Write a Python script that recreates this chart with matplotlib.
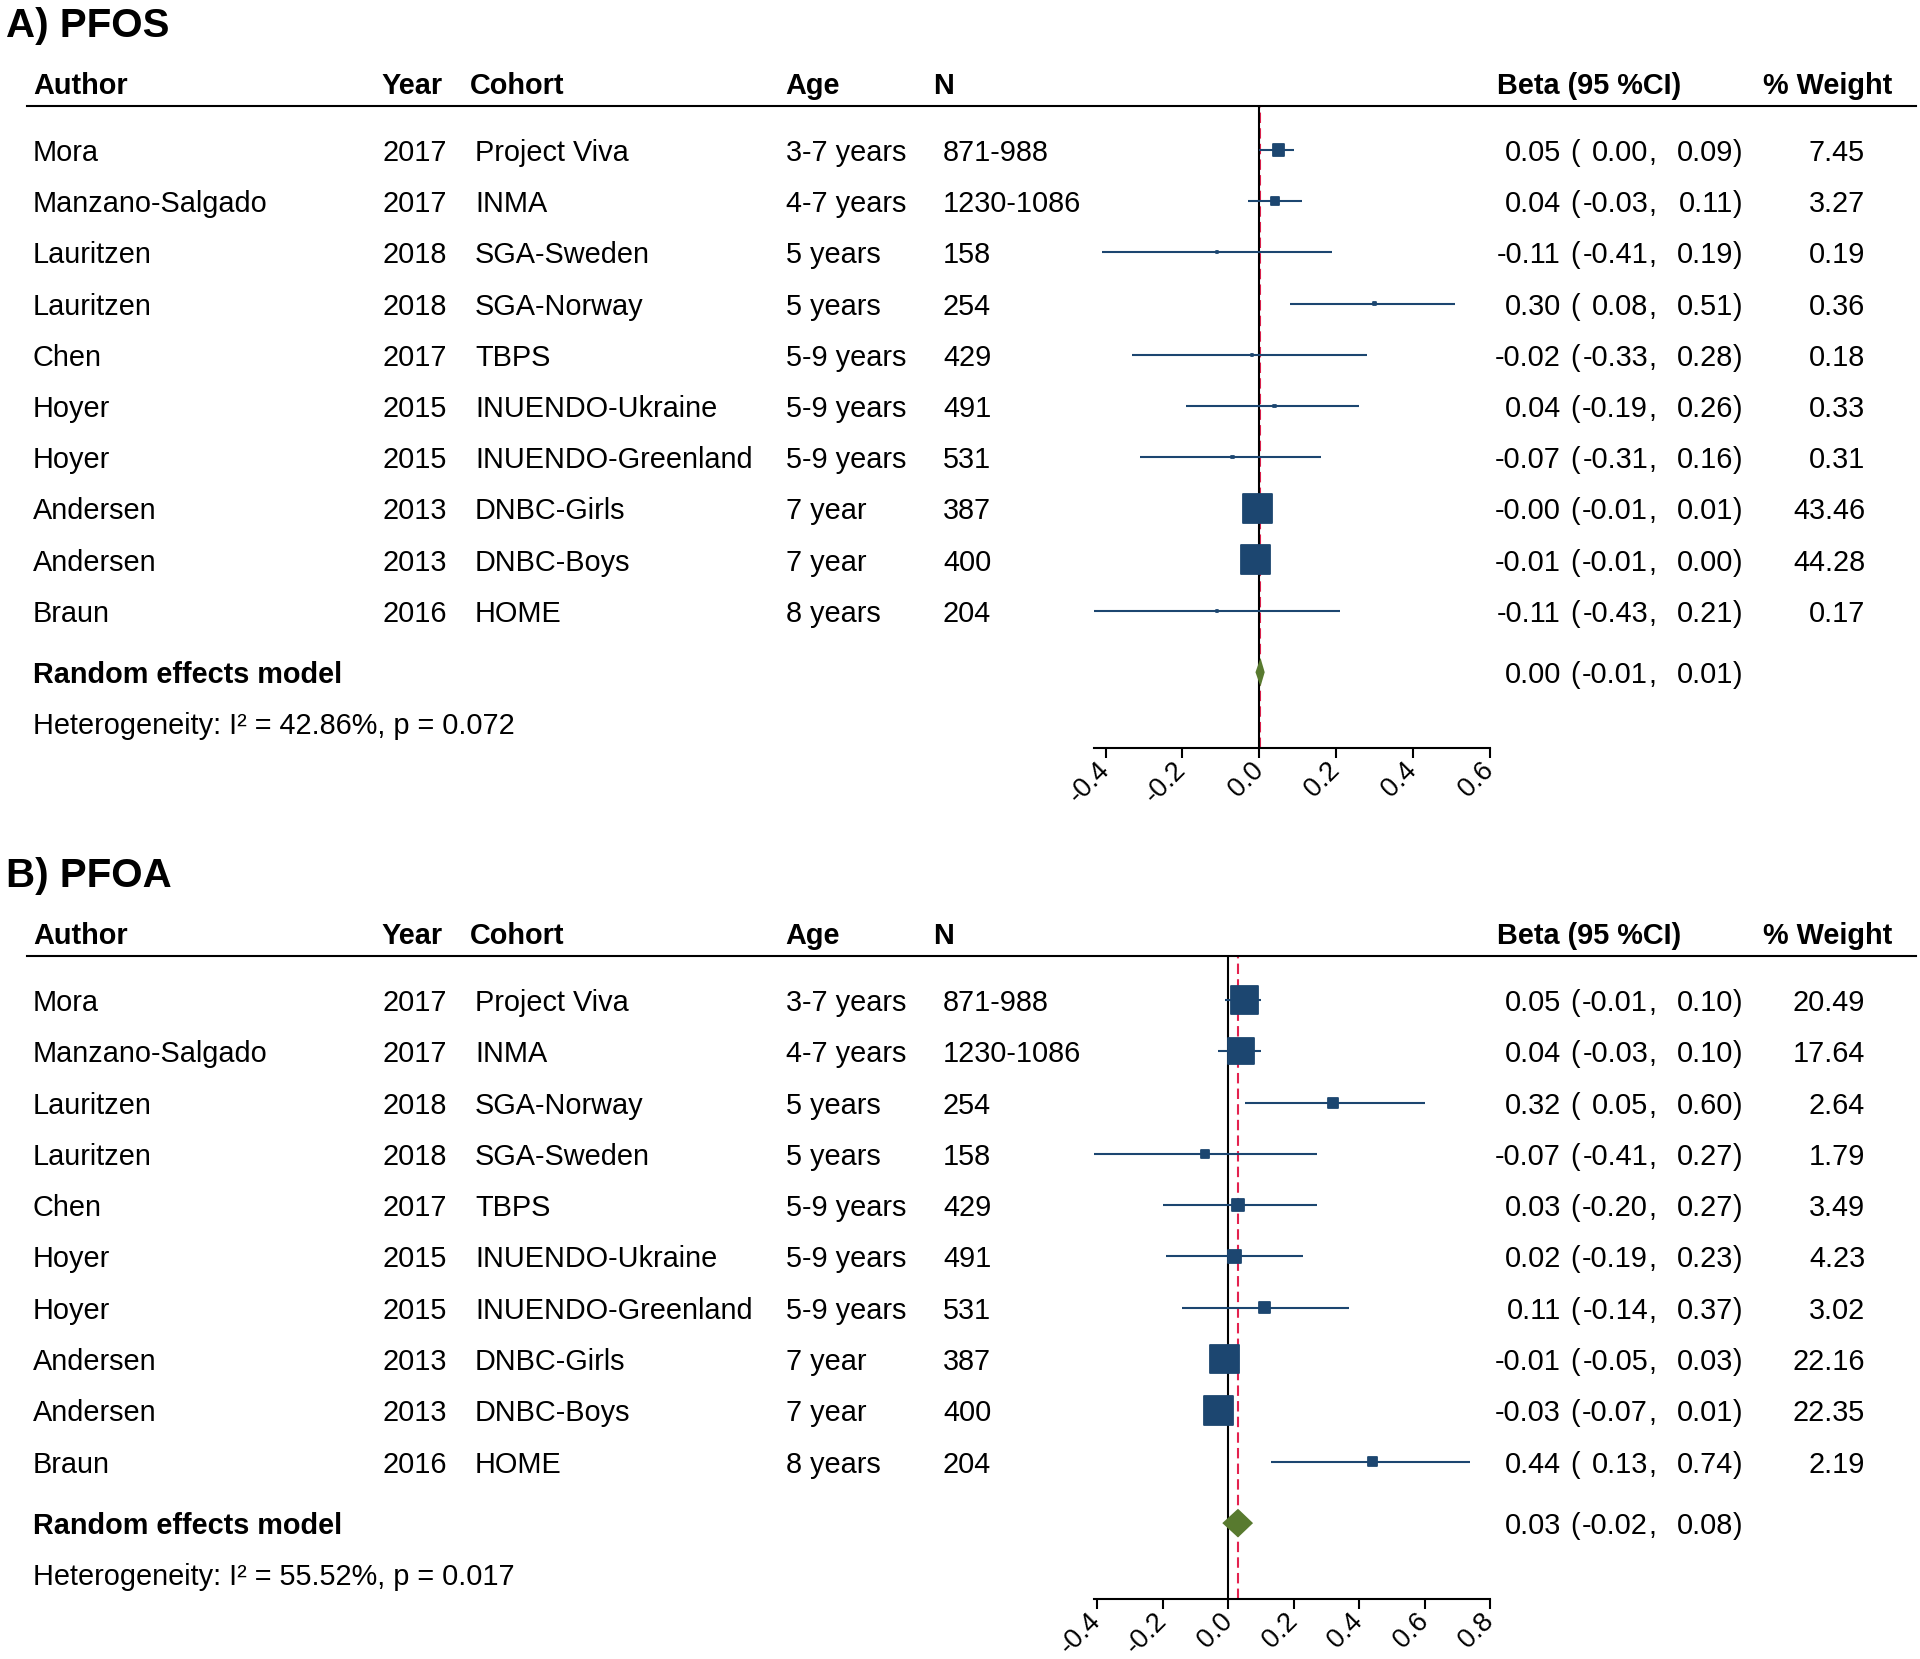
import numpy as np
import matplotlib
matplotlib.use("Agg")
import matplotlib.pyplot as plt
from matplotlib.transforms import blended_transform_factory

plt.rcParams['font.family'] = ['Liberation Sans', 'DejaVu Sans']
plt.rcParams['axes.unicode_minus'] = False

# shared study columns
authors = ["Mora", "Manzano-Salgado", "Lauritzen", "Lauritzen", "Chen", "Hoyer",
           "Hoyer", "Andersen", "Andersen", "Braun"]
years = ["2017", "2017", "2018", "2018", "2017", "2015", "2015", "2013", "2013", "2016"]
ages = ["3-7 years", "4-7 years", "5 years", "5 years", "5-9 years", "5-9 years",
        "5-9 years", "7 year", "7 year", "8 years"]

# A) PFOS
cohorts_a = ["Project Viva", "INMA", "SGA-Sweden", "SGA-Norway", "TBPS", "INUENDO-Ukraine",
             "INUENDO-Greenland", "DNBC-Girls", "DNBC-Boys", "HOME"]
n_a = ["871-988", "1230-1086", "158", "254", "429", "491", "531", "387", "400", "204"]
beta_a = [0.05, 0.04, -0.11, 0.30, -0.02, 0.04, -0.07, -0.004, -0.01, -0.11]
lo_a = [0.00, -0.03, -0.41, 0.08, -0.33, -0.19, -0.31, -0.01, -0.01, -0.43]
hi_a = [0.09, 0.11, 0.19, 0.51, 0.28, 0.26, 0.16, 0.01, 0.00, 0.21]
weight_a = [7.45, 3.27, 0.19, 0.36, 0.18, 0.33, 0.31, 43.46, 44.28, 0.17]
pooled_a = [0.003, -0.010, 0.014]
het_a = [42.86, 0.072]
ticks_a = [-0.4, -0.2, 0.0, 0.2, 0.4, 0.6]

# B) PFOA
cohorts_b = ["Project Viva", "INMA", "SGA-Norway", "SGA-Sweden", "TBPS", "INUENDO-Ukraine",
             "INUENDO-Greenland", "DNBC-Girls", "DNBC-Boys", "HOME"]
n_b = ["871-988", "1230-1086", "254", "158", "429", "491", "531", "387", "400", "204"]
beta_b = [0.05, 0.04, 0.32, -0.07, 0.03, 0.02, 0.11, -0.01, -0.03, 0.44]
lo_b = [-0.01, -0.03, 0.05, -0.41, -0.20, -0.19, -0.14, -0.05, -0.07, 0.13]
hi_b = [0.10, 0.10, 0.60, 0.27, 0.27, 0.23, 0.37, 0.03, 0.01, 0.74]
weight_b = [20.49, 17.64, 2.64, 1.79, 3.49, 4.23, 3.02, 22.16, 22.35, 2.19]
pooled_b = [0.030, -0.018, 0.076]
het_b = [55.52, 0.017]
ticks_b = [-0.4, -0.2, 0.0, 0.2, 0.4, 0.6, 0.8]

NAVY = "#1c4670"
GREEN = "#587a2f"
RED = "#e3224f"
FS = 20.8
W, H = 1920, 1659


def px(x):
    return x / W


def draw_panel(fig, rect, title, cohorts, n, beta, lo, hi, weight, pooled, het, ticks):
    ax = fig.add_axes(rect)
    ax.set_xlim(min(lo), ticks[-1])
    ax.set_ylim(11.68, -0.86)
    tr = blended_transform_factory(fig.transFigure, ax.transData)
    rows = np.arange(len(beta))

    # reference lines (null line drawn over the pooled line)
    ax.axvline(pooled[0], color=RED, lw=1.5, ls=(0, (5, 2.5)), zorder=1)
    ax.axvline(0, color="black", lw=1.5, zorder=1.5)

    # studies
    ax.hlines(rows, lo, hi, color=NAVY, lw=1.5, zorder=2)
    w = np.array(weight)
    side = 0.72 * 29 * np.sqrt(w / w.max())
    ax.scatter(beta, rows, s=side ** 2, marker="s", color=NAVY,
               edgecolor=NAVY, linewidth=1.3, zorder=3)

    # pooled diamond
    yr = 10.2
    ax.fill([pooled[1], pooled[0], pooled[2], pooled[0]],
            [yr, yr - 0.28, yr, yr + 0.28], color=GREEN, lw=0, zorder=3)

    # axis styling
    for s in ["left", "right", "top"]:
        ax.spines[s].set_visible(False)
    ax.spines["bottom"].set_linewidth(1.5)
    ax.set_yticks([])
    ax.set_xticks(ticks)
    ax.set_xticklabels([f"{t:.1f}" for t in ticks])
    ax.tick_params(axis="x", length=7, width=1.5, pad=6, labelsize=19.5)
    for lbl in ax.get_xticklabels():
        lbl.set_rotation(45)
        lbl.set_ha("right")
        lbl.set_va("center")
        lbl.set_rotation_mode("anchor")

    # title, header and rule
    ax.text(px(6), -2.5, title, transform=tr, fontsize=29, fontweight="bold",
            va="center_baseline")
    hy = -1.3
    for x, lab in [(33, "Author"), (381, "Year"), (470, "Cohort"), (785, "Age"),
                   (933, "N"), (1497, "Beta (95 %CI)"), (1763, "% Weight")]:
        ax.text(px(x), hy, lab, transform=tr, fontsize=FS, fontweight="bold",
                va="center_baseline")
    ax.plot([px(27), px(1916)], [-0.86, -0.86], transform=tr, color="black",
            lw=1.5, clip_on=False)

    def ci_text(y, b, l, h):
        ax.text(px(1561), y, f"{b:.2f}", transform=tr, fontsize=FS, ha="right", va="center_baseline")
        ax.text(px(1570), y, "(", transform=tr, fontsize=FS, va="center_baseline")
        ax.text(px(1648), y, f"{l:.2f}", transform=tr, fontsize=FS, ha="right", va="center_baseline")
        ax.text(px(1648), y, ",", transform=tr, fontsize=FS, va="center_baseline")
        ax.text(px(1733), y, f"{h:.2f}", transform=tr, fontsize=FS, ha="right", va="center_baseline")
        ax.text(px(1733), y, ")", transform=tr, fontsize=FS, va="center_baseline")

    for i in rows:
        for x, lab in [(33, authors[i]), (383, years[i]), (475, cohorts[i]),
                       (786, ages[i]), (943, n[i])]:
            ax.text(px(x), i, lab, transform=tr, fontsize=FS, va="center_baseline")
        ci_text(i, beta[i], lo[i], hi[i])
        ax.text(px(1865), i, f"{weight[i]:.2f}", transform=tr, fontsize=FS,
                ha="right", va="center_baseline")

    ax.text(px(33), yr, "Random effects model", transform=tr, fontsize=FS,
            fontweight="bold", va="center_baseline")
    ci_text(yr, *pooled)
    ax.text(px(33), 11.2, f"Heterogeneity: I\u00b2 = {het[0]:.2f}%, p = {het[1]:.3f}",
            transform=tr, fontsize=FS, va="center_baseline")
    return ax


fig = plt.figure(figsize=(W / 100, H / 100), dpi=100)

x0 = 1094
x1 = 1490
draw_panel(fig, [px(x0), 1 - 748 / H, px(x1 - x0), (748 - 106) / H], "A) PFOS",
           cohorts_a, n_a, beta_a, lo_a, hi_a, weight_a, pooled_a, het_a, ticks_a)
draw_panel(fig, [px(x0), 1 - 1599 / H, px(x1 - x0), (1599 - 956) / H], "B) PFOA",
           cohorts_b, n_b, beta_b, lo_b, hi_b, weight_b, pooled_b, het_b, ticks_b)

fig.savefig("out.png", dpi=100)
